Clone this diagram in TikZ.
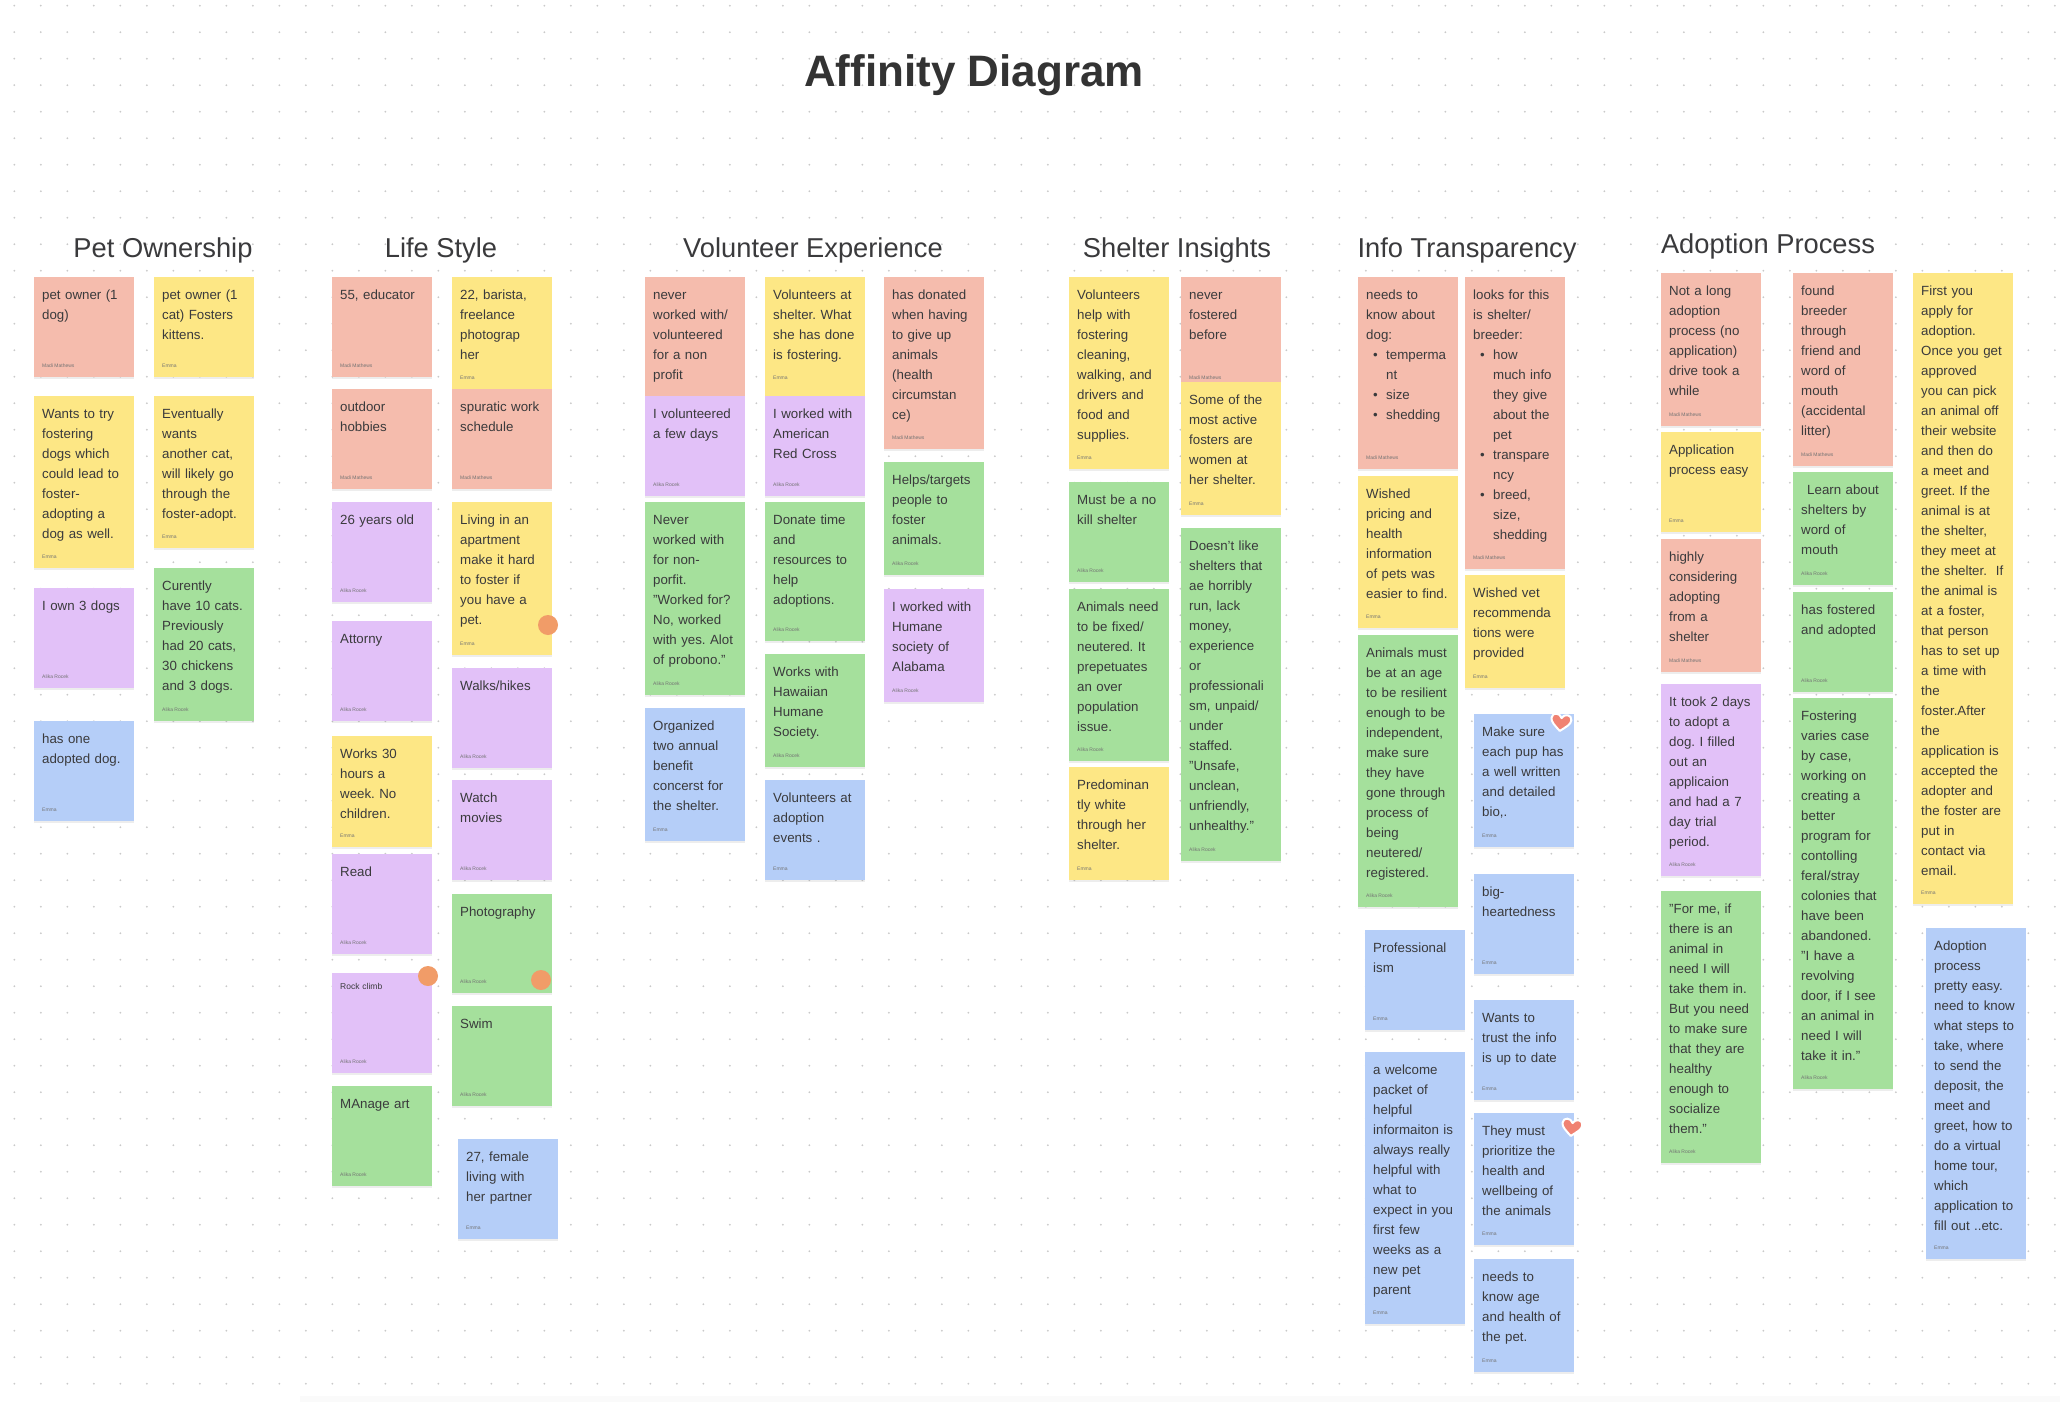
\documentclass[tikz,border=0pt]{standalone}
\usepackage{fontspec}
\setmainfont{Liberation Sans}
\usetikzlibrary{shadows}

\definecolor{peachnote}{HTML}{F5BCAD}
\definecolor{yellownote}{HTML}{FDE785}
\definecolor{purplenote}{HTML}{E2C1F8}
\definecolor{greennote}{HTML}{A5E09C}
\definecolor{bluenote}{HTML}{B5CEF8}
\definecolor{inktext}{HTML}{3A3A3C}
\definecolor{griddot}{HTML}{C9C9C9}
\definecolor{vote}{HTML}{F19C68}
\definecolor{heartred}{HTML}{F08272}

\newcommand{\bulletline}{\hspace*{7pt}\makebox[13pt][l]{\textbullet}}
\newcommand{\bulletgap}{\hspace*{20pt}}
\frenchspacing

\begin{document}
\begin{tikzpicture}[x=1pt,y=-1pt]
        \tikzstyle{card}=[anchor=north west, inner xsep=8pt, inner ysep=13pt, text width=84pt, align=left,
            text height=9.5pt, text depth={(#1-35.5)*1pt}, text=inktext, font=\fontsize{13.3}{20}\selectfont,
            drop shadow={shadow xshift=0pt, shadow yshift=-2pt, opacity=.14}]
        \tikzstyle{byline}=[anchor=west, inner sep=0pt, text=black!55, font=\fontsize{5}{6}\selectfont]
        \tikzstyle{heading}=[inner sep=0pt, text=inktext, font=\fontsize{27.3}{30}\selectfont]
        \tikzstyle{votedot}=[fill=vote]
        \tikzstyle{heart}=[fill=heartred, draw=white, line width=2pt, line join=round]

        \useasboundingbox (0,0) rectangle (2060,1402);
        \fill[white] (0,0) rectangle (2060,1402);
        \fill[black!2] (300,1396) rectangle (2060,1402);
        \foreach \i in {0,...,77}
            \foreach \j in {0,...,52}
                \fill[griddot] ({14.3+26.5*\i},{5.7+26.5*\j}) circle (1);

        \node[inner sep=0pt, text=black!80, font=\fontsize{44}{50}\selectfont\bfseries] (title) at (974,75) {Affinity Diagram};
        \node[heading] (headpet) at (163,250) {Pet Ownership};
        \node[heading] (headlife) at (441,250) {Life Style};
        \node[heading] (headvol) at (813,250) {Volunteer Experience};
        \node[heading] (headshelter) at (1177,250) {Shelter Insights};
        \node[heading] (headinfo) at (1467,250) {Info Transparency};
        \node[heading] (headadopt) at (1768,246) {Adoption Process};

        % pet ownership
        \node[card=100, fill=peachnote] (peta) at (34,277) {pet owner (1\\dog)};
        \node[byline] (petab) at ([shift={(8,-12)}]peta.south west) {Madi Mathews};
        \node[card=172, fill=yellownote] (petb) at (34,396) {Wants to try\\fostering\\dogs which\\could lead to\\foster-\\adopting a\\dog as well.};
        \node[byline] (petbb) at ([shift={(8,-12)}]petb.south west) {Emma};
        \node[card=100, fill=purplenote] (petc) at (34,588) {I own 3 dogs};
        \node[byline] (petcb) at ([shift={(8,-12)}]petc.south west) {Alika Rocek};
        \node[card=100, fill=bluenote] (petd) at (34,721) {has one\\adopted dog.};
        \node[byline] (petdb) at ([shift={(8,-12)}]petd.south west) {Emma};
        \node[card=100, fill=yellownote] (pete) at (154,277) {pet owner (1\\cat) Fosters\\kittens.};
        \node[byline] (peteb) at ([shift={(8,-12)}]pete.south west) {Emma};
        \node[card=152, fill=yellownote] (petf) at (154,396) {Eventually\\wants\\another cat,\\will likely go\\through the\\foster-adopt.};
        \node[byline] (petfb) at ([shift={(8,-12)}]petf.south west) {Emma};
        \node[card=153, fill=greennote] (petg) at (154,568) {Curently\\have 10 cats.\\Previously\\had 20 cats,\\30 chickens\\and 3 dogs.};
        \node[byline] (petgb) at ([shift={(8,-12)}]petg.south west) {Alika Rocek};

        % life style
        \node[card=100, fill=peachnote] (lifea) at (332,277) {55, educator};
        \node[byline] (lifeab) at ([shift={(8,-12)}]lifea.south west) {Madi Mathews};
        \node[card=100, fill=peachnote] (lifeb) at (332,389) {outdoor\\hobbies};
        \node[byline] (lifebb) at ([shift={(8,-12)}]lifeb.south west) {Madi Mathews};
        \node[card=100, fill=purplenote] (lifec) at (332,502) {26 years old};
        \node[byline] (lifecb) at ([shift={(8,-12)}]lifec.south west) {Alika Rocek};
        \node[card=100, fill=purplenote] (lifed) at (332,621) {Attorny};
        \node[byline] (lifedb) at ([shift={(8,-12)}]lifed.south west) {Alika Rocek};
        \node[card=111, fill=yellownote] (lifee) at (332,736) {Works 30\\hours a\\week. No\\children.};
        \node[byline] (lifeeb) at ([shift={(8,-12)}]lifee.south west) {Emma};
        \node[card=100, fill=purplenote] (lifef) at (332,854) {Read};
        \node[byline] (lifefb) at ([shift={(8,-12)}]lifef.south west) {Alika Rocek};
        \node[card=100, fill=purplenote, text height=3pt, text depth=71pt, font=\fontsize{8.5}{10}\selectfont] (lifeg) at (332,973) {Rock climb};
        \node[byline] (lifegb) at ([shift={(8,-12)}]lifeg.south west) {Alika Rocek};
        \node[card=100, fill=greennote] (lifeh) at (332,1086) {MAnage art};
        \node[byline] (lifehb) at ([shift={(8,-12)}]lifeh.south west) {Alika Rocek};
        \node[card=114, fill=yellownote] (lifei) at (452,277) {22, barista,\\freelance\\photograp\\her};
        \node[byline] (lifeib) at ([shift={(8,-14)}]lifei.south west) {Emma};
        \node[card=100, fill=peachnote] (lifej) at (452,389) {spuratic work\\schedule};
        \node[byline] (lifejb) at ([shift={(8,-12)}]lifej.south west) {Madi Mathews};
        \node[card=153, fill=yellownote] (lifek) at (452,502) {Living in an\\apartment\\make it hard\\to foster if\\you have a\\pet.};
        \node[byline] (lifekb) at ([shift={(8,-12)}]lifek.south west) {Emma};
        \node[card=100, fill=purplenote] (lifel) at (452,668) {Walks/hikes};
        \node[byline] (lifelb) at ([shift={(8,-12)}]lifel.south west) {Alika Rocek};
        \node[card=100, fill=purplenote] (lifem) at (452,780) {Watch\\movies};
        \node[byline] (lifemb) at ([shift={(8,-12)}]lifem.south west) {Alika Rocek};
        \node[card=99, fill=greennote] (lifen) at (452,894) {Photography};
        \node[byline] (lifenb) at ([shift={(8,-12)}]lifen.south west) {Alika Rocek};
        \node[card=100, fill=greennote] (lifeo) at (452,1006) {Swim};
        \node[byline] (lifeob) at ([shift={(8,-12)}]lifeo.south west) {Alika Rocek};
        \node[card=100, fill=bluenote] (lifep) at (458,1139) {27, female\\living with\\her partner};
        \node[byline] (lifepb) at ([shift={(8,-12)}]lifep.south west) {Emma};
        \fill[votedot] (548,625) circle (10);
        \fill[votedot] (428,976) circle (10);
        \fill[votedot] (541,980) circle (10);

        % volunteer experience
        \node[card=119, fill=peachnote] (vola) at (645,277) {never\\worked with/\\volunteered\\for a non\\profit};
        \node[card=100, fill=purplenote] (volb) at (645,396) {I volunteered\\a few days};
        \node[byline] (volbb) at ([shift={(8,-12)}]volb.south west) {Alika Rocek};
        \node[card=193, fill=greennote] (volc) at (645,502) {Never\\worked with\\for non-\\porfit.\\"Worked for?\\No, worked\\with yes. Alot\\of probono."};
        \node[byline] (volcb) at ([shift={(8,-12)}]volc.south west) {Alika Rocek};
        \node[card=133, fill=bluenote] (vold) at (645,708) {Organized\\two annual\\benefit\\concerst for\\the shelter.};
        \node[byline] (voldb) at ([shift={(8,-12)}]vold.south west) {Emma};
        \node[card=119, fill=yellownote] (vole) at (765,277) {Volunteers at\\shelter. What\\she has done\\is fostering.};
        \node[byline] (voleb) at ([shift={(8,-19)}]vole.south west) {Emma};
        \node[card=100, fill=purplenote] (volf) at (765,396) {I worked with\\American\\Red Cross};
        \node[byline] (volfb) at ([shift={(8,-12)}]volf.south west) {Alika Rocek};
        \node[card=139, fill=greennote] (volg) at (765,502) {Donate time\\and\\resources to\\help\\adoptions.};
        \node[byline] (volgb) at ([shift={(8,-12)}]volg.south west) {Alika Rocek};
        \node[card=113, fill=greennote] (volh) at (765,654) {Works with\\Hawaiian\\Humane\\Society.};
        \node[byline] (volhb) at ([shift={(8,-12)}]volh.south west) {Alika Rocek};
        \node[card=100, fill=bluenote] (voli) at (765,780) {Volunteers at\\adoption\\events .};
        \node[byline] (volib) at ([shift={(8,-12)}]voli.south west) {Emma};
        \node[card=172, fill=peachnote] (volj) at (884,277) {has donated\\when having\\to give up\\animals\\(health\\circumstan\\ce)};
        \node[byline] (voljb) at ([shift={(8,-12)}]volj.south west) {Madi Mathews};
        \node[card=113, fill=greennote] (volk) at (884,462) {Helps/targets\\people to\\foster\\animals.};
        \node[byline] (volkb) at ([shift={(8,-12)}]volk.south west) {Alika Rocek};
        \node[card=113, fill=purplenote] (voll) at (884,589) {I worked with\\Humane\\society of\\Alabama};
        \node[byline] (vollb) at ([shift={(8,-12)}]voll.south west) {Alika Rocek};

        % shelter insights
        \node[card=192, fill=yellownote] (shelta) at (1069,277) {Volunteers\\help with\\fostering\\cleaning,\\walking, and\\drivers and\\food and\\supplies.};
        \node[byline] (sheltab) at ([shift={(8,-12)}]shelta.south west) {Emma};
        \node[card=100, fill=greennote] (sheltb) at (1069,482) {Must be a no\\kill shelter};
        \node[byline] (sheltbb) at ([shift={(8,-12)}]sheltb.south west) {Alika Rocek};
        \node[card=172, fill=greennote] (sheltc) at (1069,589) {Animals need\\to be fixed/\\neutered. It\\prepetuates\\an over\\population\\issue.};
        \node[byline] (sheltcb) at ([shift={(8,-12)}]sheltc.south west) {Alika Rocek};
        \node[card=113, fill=yellownote] (sheltd) at (1069,767) {Predominan\\tly white\\through her\\shelter.};
        \node[byline] (sheltdb) at ([shift={(8,-12)}]sheltd.south west) {Emma};
        \node[card=105, fill=peachnote] (shelte) at (1181,277) {never\\fostered\\before};
        \node[byline] (shelteb) at ([shift={(8,-5)}]shelte.south west) {Madi Mathews};
        \node[card=133, fill=yellownote] (sheltf) at (1181,382) {Some of the\\most active\\fosters are\\women at\\her shelter.};
        \node[byline] (sheltfb) at ([shift={(8,-12)}]sheltf.south west) {Emma};
        \node[card=333, fill=greennote] (sheltg) at (1181,528) {Doesn't like\\shelters that\\ae horribly\\run, lack\\money,\\experience\\or\\professionali\\sm, unpaid/\\under\\staffed.\\"Unsafe,\\unclean,\\unfriendly,\\unhealthy."};
        \node[byline] (sheltgb) at ([shift={(8,-12)}]sheltg.south west) {Alika Rocek};

        % info transparency
        \node[card=192, fill=peachnote] (infoa) at (1358,277) {needs to\\know about\\dog:\\\bulletline temperma\\\bulletgap nt\\\bulletline size\\\bulletline shedding};
        \node[byline] (infoab) at ([shift={(8,-12)}]infoa.south west) {Madi Mathews};
        \node[card=152, fill=yellownote] (infob) at (1358,476) {Wished\\pricing and\\health\\information\\of pets was\\easier to find.};
        \node[byline] (infobb) at ([shift={(8,-12)}]infob.south west) {Emma};
        \node[card=272, fill=greennote] (infoc) at (1358,635) {Animals must\\be at an age\\to be resilient\\enough to be\\independent,\\make sure\\they have\\gone through\\process of\\being\\neutered/\\registered.};
        \node[byline] (infocb) at ([shift={(8,-12)}]infoc.south west) {Alika Rocek};
        \node[card=100, fill=bluenote] (infod) at (1365,930) {Professional\\ism};
        \node[byline] (infodb) at ([shift={(8,-12)}]infod.south west) {Emma};
        \node[card=272, fill=bluenote] (infoe) at (1365,1052) {a welcome\\packet of\\helpful\\informaiton is\\always really\\helpful with\\what to\\expect in you\\first few\\weeks as a\\new pet\\parent};
        \node[byline] (infoeb) at ([shift={(8,-12)}]infoe.south west) {Emma};
        \node[card=292, fill=peachnote] (infof) at (1465,277) {looks for this\\is shelter/\\breeder:\\\bulletline how\\\bulletgap much info\\\bulletgap they give\\\bulletgap about the\\\bulletgap pet\\\bulletline transpare\\\bulletgap ncy\\\bulletline breed,\\\bulletgap size,\\\bulletgap shedding};
        \node[byline] (infofb) at ([shift={(8,-12)}]infof.south west) {Madi Mathews};
        \node[card=113, fill=yellownote] (infog) at (1465,575) {Wished vet\\recommenda\\tions were\\provided};
        \node[byline] (infogb) at ([shift={(8,-12)}]infog.south west) {Emma};
        \node[card=133, fill=bluenote] (infoh) at (1474,714) {Make sure\\each pup has\\a well written\\and detailed\\bio,.};
        \node[byline] (infohb) at ([shift={(8,-12)}]infoh.south west) {Emma};
        \node[card=100, fill=bluenote] (infoi) at (1474,874) {big-\\heartedness};
        \node[byline] (infoib) at ([shift={(8,-12)}]infoi.south west) {Emma};
        \node[card=100, fill=bluenote] (infoj) at (1474,1000) {Wants to\\trust the info\\is up to date};
        \node[byline] (infojb) at ([shift={(8,-12)}]infoj.south west) {Emma};
        \node[card=132, fill=bluenote] (infok) at (1474,1113) {They must\\prioritize the\\health and\\wellbeing of\\the animals};
        \node[byline] (infokb) at ([shift={(8,-12)}]infok.south west) {Emma};
        \node[card=113, fill=bluenote] (infol) at (1474,1259) {needs to\\know age\\and health of\\the pet.};
        \node[byline] (infolb) at ([shift={(8,-12)}]infol.south west) {Emma};
        \draw[heart, shift={(1561,722)}, rotate=-8] (0,9) .. controls (-6,4) and (-10,1) .. (-10,-3) .. controls (-10,-9) and (-2,-9) .. (0,-4) .. controls (2,-9) and (10,-9) .. (10,-3) .. controls (10,1) and (6,4) .. (0,9) -- cycle;
        \draw[heart, shift={(1572,1127)}, rotate=-8] (0,9) .. controls (-6,4) and (-10,1) .. (-10,-3) .. controls (-10,-9) and (-2,-9) .. (0,-4) .. controls (2,-9) and (10,-9) .. (10,-3) .. controls (10,1) and (6,4) .. (0,9) -- cycle;

        % adoption process
        \node[card=153, fill=peachnote] (adopta) at (1661,273) {Not a long\\adoption\\process (no\\application)\\drive took a\\while};
        \node[byline] (adoptab) at ([shift={(8,-12)}]adopta.south west) {Madi Mathews};
        \node[card=100, fill=yellownote] (adoptb) at (1661,432) {Application\\process easy};
        \node[byline] (adoptbb) at ([shift={(8,-12)}]adoptb.south west) {Emma};
        \node[card=133, fill=peachnote] (adoptc) at (1661,539) {highly\\considering\\adopting\\from a\\shelter};
        \node[byline] (adoptcb) at ([shift={(8,-12)}]adoptc.south west) {Madi Mathews};
        \node[card=192, fill=purplenote] (adoptd) at (1661,684) {It took 2 days\\to adopt a\\dog. I filled\\out an\\applicaion\\and had a 7\\day trial\\period.};
        \node[byline] (adoptdb) at ([shift={(8,-12)}]adoptd.south west) {Alika Rocek};
        \node[card=272, fill=greennote] (adopte) at (1661,891) {"For me, if\\there is an\\animal in\\need I will\\take them in.\\But you need\\to make sure\\that they are\\healthy\\enough to\\socialize\\them."};
        \node[byline] (adopteb) at ([shift={(8,-12)}]adopte.south west) {Alika Rocek};
        \node[card=193, fill=peachnote] (adoptf) at (1793,273) {found\\breeder\\through\\friend and\\word of\\mouth\\(accidental\\litter)};
        \node[byline] (adoptfb) at ([shift={(8,-12)}]adoptf.south west) {Madi Mathews};
        \node[card=113, fill=greennote] (adoptg) at (1793,472) {\hspace*{6pt}Learn about\\shelters by\\word of\\mouth};
        \node[byline] (adoptgb) at ([shift={(8,-12)}]adoptg.south west) {Alika Rocek};
        \node[card=100, fill=greennote] (adopth) at (1793,592) {has fostered\\and adopted};
        \node[byline] (adopthb) at ([shift={(8,-12)}]adopth.south west) {Alika Rocek};
        \node[card=391, fill=greennote] (adopti) at (1793,698) {Fostering\\varies case\\by case,\\working on\\creating a\\better\\program for\\contolling\\feral/stray\\colonies that\\have been\\abandoned.\\"I have a\\revolving\\door, if I see\\an animal in\\need I will\\take it in."};
        \node[byline] (adoptib) at ([shift={(8,-12)}]adopti.south west) {Alika Rocek};
        \node[card=631, fill=yellownote] (adoptj) at (1913,273) {First you\\apply for\\adoption.\\Once you get\\approved\\you can pick\\an animal off\\their website\\and then do\\a meet and\\greet. If the\\animal is at\\the shelter,\\they meet at\\\mbox{the shelter.~ If}\\the animal is\\at a foster,\\that person\\has to set up\\a time with\\the\\foster.After\\the\\application is\\accepted the\\adopter and\\the foster are\\put in\\contact via\\email.};
        \node[byline] (adoptjb) at ([shift={(8,-12)}]adoptj.south west) {Emma};
        \node[card=331, fill=bluenote] (adoptk) at (1926,928) {Adoption\\process\\pretty easy.\\need to know\\what steps to\\take, where\\to send the\\deposit, the\\meet and\\greet, how to\\do a virtual\\home tour,\\which\\application to\\fill out ..etc.};
        \node[byline] (adoptkb) at ([shift={(8,-12)}]adoptk.south west) {Emma};
\end{tikzpicture}
\end{document}
